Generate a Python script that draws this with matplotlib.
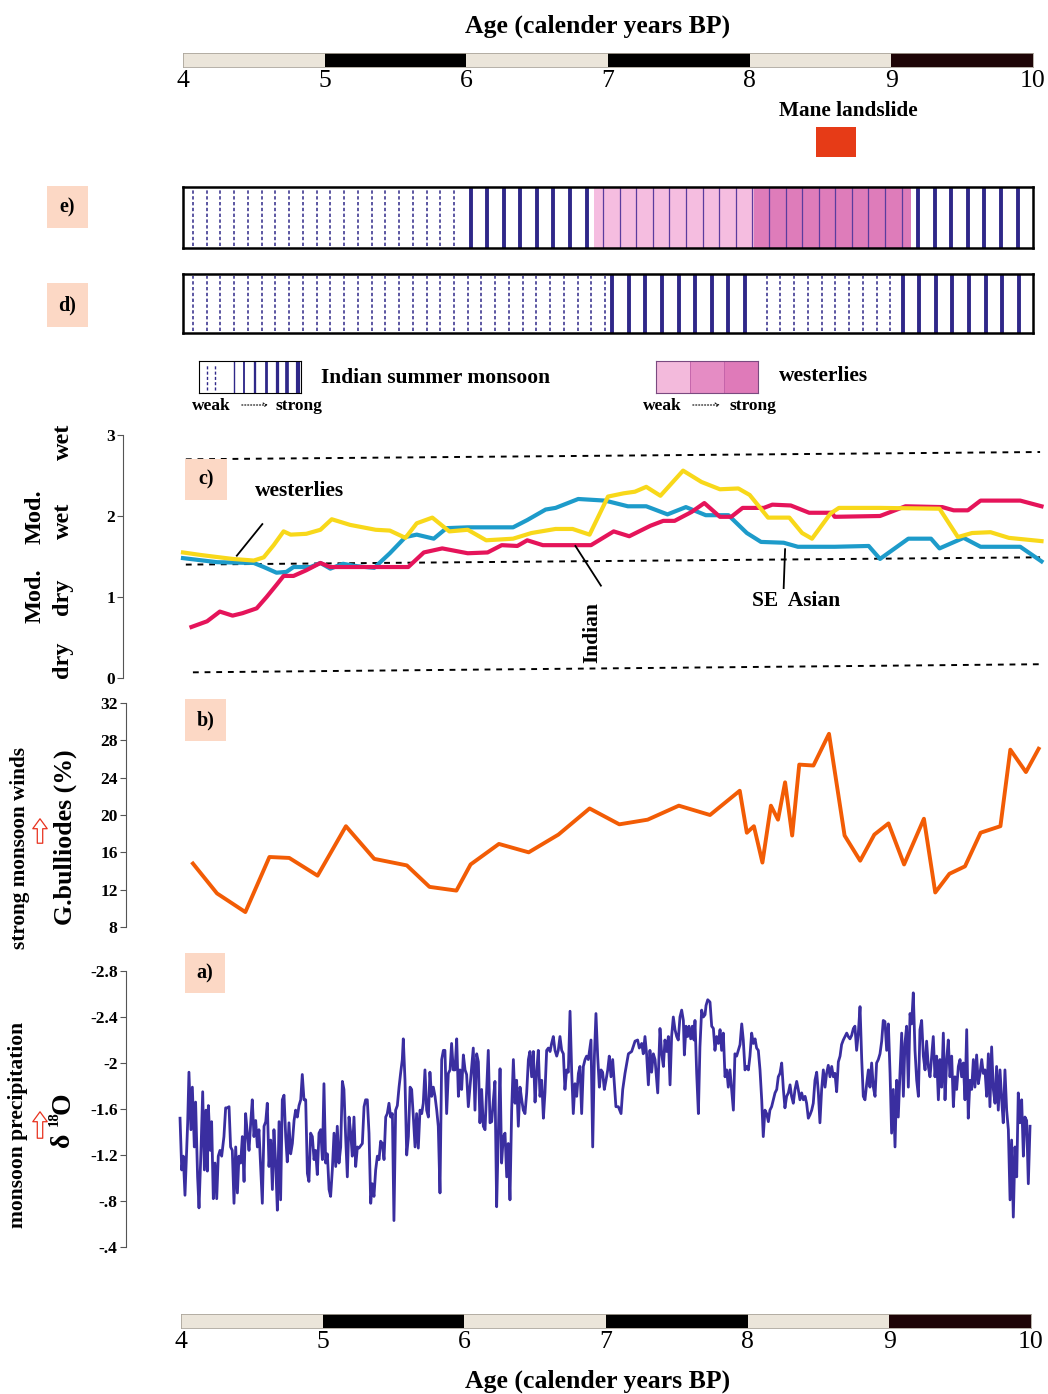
import numpy as np
import matplotlib.pyplot as plt
from matplotlib.patches import Rectangle, FancyArrowPatch, ArrowStyle

# ---------------- data ----------------
bar_edges = [4, 5, 6, 7, 8, 9, 10]
bar_colors = ["#ebe5da", "#000000", "#ebe5da", "#000000", "#ebe5da", "#1e0507"]
landslide = (8.47, 8.75)

# e) / d) monsoon strength segments (start, end, kind) and westerlies shading
ism_e = [(4.0, 6.0, "weak"), (6.0, 10.0, "strong")]
west_e = [(6.9, 8.03, "#f5bde0"), (8.03, 9.14, "#de7cba")]
ism_d = [(4.0, 7.0, "weak"), (7.0, 8.05, "strong"), (8.05, 9.05, "weak"), (9.05, 10.0, "strong")]
west_legend = ["#f3badc", "#e58cc4", "#df7ab9"]

# c) moisture index
west_age = [4.00, 4.12, 4.21, 4.35, 4.50, 4.57, 4.64, 4.71, 4.76, 4.87, 4.97, 5.05, 5.18, 5.36, 5.46,
            5.57, 5.65, 5.76, 5.88, 6.01, 6.14, 6.33, 6.46, 6.63, 6.75, 6.87, 7.00, 7.11, 7.19, 7.27,
            7.37, 7.53, 7.66, 7.79, 7.92, 8.00, 8.13, 8.28, 8.37, 8.44, 8.57, 8.63, 8.92, 9.34, 9.47,
            9.57, 9.70, 9.83, 10.06]
west_val = [1.55, 1.52, 1.50, 1.47, 1.45, 1.49, 1.64, 1.81, 1.77, 1.78, 1.83, 1.96, 1.89, 1.83, 1.82,
            1.73, 1.91, 1.98, 1.81, 1.83, 1.70, 1.72, 1.79, 1.84, 1.84, 1.77, 2.24, 2.28, 2.30, 2.36,
            2.25, 2.56, 2.42, 2.33, 2.34, 2.26, 1.98, 1.98, 1.79, 1.72, 2.03, 2.10, 2.10, 2.09, 1.74,
            1.79, 1.80, 1.73, 1.69]
sea_age = [4.00, 4.24, 4.50, 4.57, 4.66, 4.73, 4.78, 4.90, 4.97, 5.04, 5.13, 5.23, 5.35, 5.46, 5.57,
           5.65, 5.77, 5.86, 6.01, 6.33, 6.43, 6.56, 6.63, 6.79, 6.98, 7.14, 7.27, 7.42, 7.55, 7.69,
           7.85, 7.98, 8.08, 8.24, 8.34, 8.60, 8.84, 8.92, 9.12, 9.28, 9.34, 9.51, 9.63, 9.91, 10.06]
sea_val = [1.48, 1.43, 1.42, 1.37, 1.30, 1.31, 1.37, 1.37, 1.42, 1.35, 1.41, 1.38, 1.36, 1.54, 1.74,
           1.77, 1.72, 1.85, 1.86, 1.86, 1.95, 2.08, 2.10, 2.21, 2.19, 2.12, 2.12, 2.02, 2.11, 2.01,
           2.01, 1.79, 1.68, 1.67, 1.62, 1.62, 1.63, 1.47, 1.72, 1.72, 1.60, 1.73, 1.62, 1.62, 1.44]
ind_age = [4.06, 4.17, 4.26, 4.35, 4.42, 4.52, 4.59, 4.66, 4.71, 4.78, 4.87, 4.97, 5.04, 5.59, 5.70,
           5.83, 6.01, 6.15, 6.25, 6.36, 6.43, 6.54, 6.88, 7.04, 7.15, 7.30, 7.39, 7.47, 7.59, 7.68,
           7.79, 7.87, 7.95, 8.10, 8.16, 8.29, 8.42, 8.58, 8.60, 8.92, 9.10, 9.36, 9.44, 9.54, 9.63,
           9.91, 10.06]
ind_val = [0.63, 0.70, 0.82, 0.77, 0.80, 0.86, 1.00, 1.15, 1.26, 1.26, 1.33, 1.42, 1.37, 1.37, 1.55,
           1.60, 1.54, 1.55, 1.64, 1.63, 1.70, 1.64, 1.64, 1.81, 1.75, 1.88, 1.94, 1.94, 2.05, 2.16,
           1.99, 1.99, 2.10, 2.10, 2.14, 2.13, 2.04, 2.04, 1.99, 2.00, 2.12, 2.11, 2.07, 2.07, 2.19,
           2.19, 2.12]
# dashed class boundaries in c): (age start, age end, value start, value end)
c_guides = [(4.02, 10.05, 2.70, 2.79), (4.02, 10.05, 1.40, 1.49), (4.07, 10.05, 0.07, 0.17)]

# b) G. bulloides (%)
gb_age = [4.07, 4.24, 4.44, 4.61, 4.75, 4.95, 5.15, 5.35, 5.58, 5.74, 5.93, 6.03, 6.23, 6.44, 6.65,
          6.87, 7.08, 7.28, 7.50, 7.72, 7.93, 7.98, 8.03, 8.09, 8.15, 8.20, 8.25, 8.30, 8.35, 8.45,
          8.56, 8.67, 8.78, 8.88, 8.98, 9.09, 9.23, 9.31, 9.41, 9.52, 9.63, 9.77, 9.84, 9.95, 10.04]
gb_val = [14.8, 11.6, 9.6, 15.5, 15.4, 13.5, 18.8, 15.3, 14.6, 12.3, 11.9, 14.7, 16.9, 16.0, 17.9,
          20.7, 19.0, 19.5, 21.0, 20.0, 22.6, 18.1, 18.8, 14.9, 21.0, 19.5, 23.5, 17.8, 25.4, 25.3,
          28.7, 17.8, 15.1, 17.9, 19.1, 14.7, 19.6, 11.7, 13.7, 14.5, 18.1, 18.8, 27.0, 24.6, 27.1]

# a) speleothem d18O
d18o_age = [
    3.979, 3.991, 4.002, 4.014, 4.033, 4.042, 4.056, 4.066, 4.080, 4.089, 4.103, 4.113, 4.127, 4.139,
    4.151, 4.162, 4.172, 4.179, 4.193, 4.202, 4.214, 4.226, 4.238, 4.249, 4.261, 4.273, 4.289, 4.301,
    4.313, 4.325, 4.336, 4.348, 4.360, 4.372, 4.384, 4.395, 4.407, 4.419, 4.431, 4.442, 4.454, 4.466,
    4.478, 4.489, 4.501, 4.513, 4.525, 4.536, 4.548, 4.560, 4.572, 4.584, 4.595, 4.607, 4.619, 4.631,
    4.642, 4.654, 4.666, 4.678, 4.689, 4.701, 4.713, 4.725, 4.736, 4.748, 4.760, 4.772, 4.784, 4.795,
    4.807, 4.819, 4.831, 4.842, 4.854, 4.866, 4.878, 4.889, 4.901, 4.913, 4.925, 4.936, 4.948, 4.960,
    4.972, 4.984, 4.995, 5.007, 5.019, 5.031, 5.042, 5.054, 5.066, 5.078, 5.089, 5.101, 5.113, 5.125,
    5.136, 5.148, 5.160, 5.172, 5.184, 5.195, 5.207, 5.219, 5.231, 5.242, 5.266, 5.278, 5.289, 5.301,
    5.313, 5.325, 5.336, 5.348, 5.360, 5.372, 5.384, 5.395, 5.407, 5.419, 5.431, 5.442, 5.454, 5.466,
    5.478, 5.489, 5.501, 5.513, 5.525, 5.536, 5.548, 5.555, 5.567, 5.579, 5.591, 5.603, 5.614, 5.626,
    5.638, 5.649, 5.661, 5.673, 5.685, 5.696, 5.708, 5.720, 5.732, 5.743, 5.755, 5.767, 5.779, 5.791,
    5.802, 5.814, 5.826, 5.838, 5.849, 5.861, 5.873, 5.885, 5.896, 5.908, 5.920, 5.932, 5.944, 5.955,
    5.967, 5.979, 5.991, 6.002, 6.014,
    6.038, 6.049, 6.061, 6.073, 6.085, 6.096, 6.108, 6.120, 6.132, 6.144, 6.155, 6.167, 6.179, 6.191,
    6.202, 6.214, 6.226, 6.238, 6.249, 6.261, 6.273, 6.285, 6.296, 6.308, 6.320, 6.332, 6.344, 6.355,
    6.367, 6.379, 6.391, 6.402, 6.414, 6.426, 6.438, 6.449, 6.461, 6.473, 6.485, 6.496, 6.508, 6.520,
    6.532, 6.544, 6.555, 6.567, 6.579, 6.591, 6.602, 6.614, 6.626, 6.638, 6.649, 6.661, 6.673, 6.685,
    6.696, 6.708, 6.720, 6.732, 6.744, 6.755, 6.767, 6.779, 6.791, 6.802, 6.814, 6.826, 6.838, 6.849,
    6.861, 6.880, 6.892, 6.904, 6.915, 6.927, 6.939, 6.951, 6.962, 6.974, 6.986, 6.998, 7.009, 7.021,
    7.033, 7.045, 7.056, 7.073, 7.092, 7.104, 7.120, 7.144, 7.167, 7.191, 7.209, 7.221, 7.238, 7.249,
    7.261, 7.273, 7.285, 7.296, 7.308, 7.320, 7.332, 7.351, 7.367, 7.379, 7.391, 7.402, 7.414, 7.426,
    7.438, 7.449, 7.461, 7.473, 7.485, 7.496, 7.508, 7.520, 7.532, 7.539, 7.551, 7.562, 7.572, 7.584,
    7.595, 7.607, 7.614, 7.626, 7.638, 7.649, 7.661, 7.673, 7.685, 7.692, 7.704, 7.720, 7.732, 7.744,
    7.755, 7.767, 7.779, 7.791, 7.802, 7.814, 7.826, 7.838, 7.849, 7.861, 7.873, 7.885, 7.896, 7.908,
    7.920, 7.932, 7.944, 7.955, 7.967, 7.979, 7.991, 8.002, 8.014, 8.026,
    8.038, 8.049, 8.061, 8.073, 8.085, 8.096, 8.108, 8.120, 8.132, 8.143, 8.155, 8.167, 8.179, 8.191,
    8.202, 8.214, 8.226, 8.238, 8.249, 8.261, 8.273, 8.285, 8.296, 8.308, 8.320, 8.332, 8.343, 8.355,
    8.367, 8.379, 8.391, 8.402, 8.414, 8.426, 8.438, 8.449, 8.461, 8.473, 8.485, 8.496, 8.508, 8.520,
    8.532, 8.543, 8.555, 8.567, 8.579, 8.591, 8.602, 8.614, 8.626, 8.638, 8.649, 8.661, 8.673, 8.685,
    8.696, 8.708, 8.720, 8.732, 8.743, 8.755, 8.767, 8.779, 8.791, 8.802, 8.814, 8.826, 8.838, 8.849,
    8.861, 8.873, 8.885, 8.896, 8.908, 8.920, 8.932, 8.943, 8.955, 8.967, 8.979, 8.991, 9.002, 9.014,
    9.026, 9.038, 9.049, 9.061, 9.073, 9.085, 9.096, 9.108, 9.120, 9.132, 9.143, 9.155, 9.167, 9.179,
    9.191, 9.202, 9.214, 9.226, 9.238, 9.249, 9.261, 9.273, 9.285, 9.296, 9.308, 9.320, 9.332, 9.343,
    9.355, 9.367, 9.379, 9.391, 9.402, 9.414, 9.426, 9.438, 9.449, 9.461, 9.473, 9.485, 9.496, 9.508,
    9.520, 9.532, 9.543, 9.555, 9.567, 9.579, 9.590, 9.602, 9.614, 9.626, 9.638, 9.649, 9.661, 9.673,
    9.685, 9.696, 9.708, 9.720, 9.732, 9.743, 9.755, 9.767, 9.779, 9.790, 9.802, 9.814, 9.826, 9.838,
    9.849, 9.861, 9.873, 9.885, 9.896, 9.908, 9.920, 9.932, 9.943, 9.955, 9.967, 9.979,
]
d18o_val = [
    -1.52, -1.07, -1.19, -0.85, -1.48, -1.92, -1.42, -1.79, -1.27, -1.66, -1.01, -0.74, -1.24, -1.75,
    -1.07, -1.59, -1.06, -1.63, -1.24, -1.49, -0.82, -1.13, -0.82, -1.19, -1.24, -1.19, -1.36, -1.61,
    -1.61, -1.62, -1.27, -1.24, -0.78, -1.27, -0.87, -1.19, -1.13, -1.36, -0.97, -1.56, -1.39, -1.24,
    -1.48, -1.68, -1.36, -1.50, -1.27, -1.42, -1.10, -0.78, -1.45, -1.49, -1.65, -1.10, -1.33, -0.90,
    -1.42, -1.13, -0.72, -1.49, -0.81, -1.68, -1.72, -1.36, -1.14, -1.48, -1.21, -1.30, -1.50, -1.59,
    -1.53, -1.63, -1.68, -1.90, -1.68, -1.68, -1.04, -0.97, -1.39, -1.36, -1.16, -1.24, -1.03, -1.39,
    -1.42, -1.16, -1.82, -1.13, -1.21, -0.90, -0.84, -1.07, -1.39, -1.10, -1.45, -1.13, -1.27, -1.84,
    -1.77, -1.36, -1.01, -1.53, -1.39, -1.19, -1.53, -1.10, -1.27, -1.26, -1.30, -1.62, -1.68, -1.68,
    -1.39, -0.78, -0.95, -0.84, -1.07, -1.19, -1.16, -1.32, -1.30, -1.16, -1.53, -1.56, -1.65, -1.53,
    -1.56, -0.63, -1.59, -1.63, -1.79, -1.91, -2.03, -2.21, -1.85, -1.20, -1.36, -1.79, -1.77, -1.53,
    -1.27, -1.56, -1.26, -1.59, -1.56, -1.65, -1.94, -1.59, -1.53, -1.92, -1.71, -1.79, -1.71, -1.59,
    -1.45, -0.87, -2.03, -2.11, -2.11, -1.56, -1.91, -1.94, -2.17, -1.94, -1.94, -2.21, -1.71, -1.94,
    -1.77, -2.07, -1.94, -1.90, -1.62,
    -1.97, -2.13, -1.59, -2.08, -2.01, -1.48, -1.77, -1.45, -1.42, -1.77, -2.11, -1.48, -1.49, -1.68,
    -1.84, -0.75, -1.39, -1.95, -1.13, -1.36, -1.39, -1.01, -1.30, -0.81, -1.59, -2.03, -1.65, -1.85,
    -1.45, -1.79, -1.68, -1.59, -1.56, -1.74, -2.03, -2.10, -1.88, -2.10, -1.66, -1.91, -2.11, -1.71,
    -1.85, -1.52, -1.74, -2.11, -2.13, -2.10, -2.17, -2.23, -2.11, -2.06, -2.11, -2.23, -2.11, -2.08,
    -1.77, -1.94, -1.92, -2.45, -1.91, -1.56, -1.82, -1.71, -1.91, -1.97, -1.56, -1.97, -2.03, -2.06,
    -2.03, -2.20, -1.27, -2.06, -2.43, -2.06, -1.79, -1.94, -1.92, -1.77, -1.85, -1.94, -2.06, -1.88,
    -2.03, -1.82, -1.62, -1.62, -1.56, -1.77, -1.91, -2.08, -2.10, -2.19, -2.20, -2.13, -2.17, -2.08,
    -2.23, -2.07, -1.81, -2.11, -1.92, -2.08, -2.03, -1.74, -2.30, -2.08, -1.97, -2.20, -2.10, -2.23,
    -1.81, -2.23, -2.40, -2.29, -2.23, -2.20, -2.40, -2.46, -2.37, -2.07, -2.32, -2.23, -2.32, -2.21,
    -2.32, -2.20, -2.37, -1.91, -1.56, -2.14, -2.46, -2.40, -2.42, -2.50, -2.55, -2.53, -2.32, -2.30,
    -2.11, -2.23, -2.17, -2.29, -2.11, -2.26, -1.88, -1.94, -1.79, -1.94, -1.77, -1.59, -2.08, -2.06,
    -2.11, -2.16, -2.34, -2.20, -1.94, -1.97, -1.94, -2.06, -2.26, -2.17,
    -2.21, -2.13, -2.11, -1.94, -1.68, -1.36, -1.59, -1.56, -1.49, -1.59, -1.62, -1.68, -1.74, -1.77,
    -1.88, -1.91, -2.00, -1.77, -1.61, -1.71, -1.74, -1.81, -1.71, -1.65, -1.77, -1.84, -1.77, -1.68,
    -1.74, -1.68, -1.71, -1.65, -1.52, -1.55, -1.59, -1.65, -1.85, -1.92, -1.74, -1.48, -1.77, -1.94,
    -1.79, -1.91, -1.98, -1.88, -1.97, -1.88, -1.91, -1.75, -2.01, -2.06, -2.16, -2.20, -2.23, -2.26,
    -2.23, -2.21, -2.24, -2.30, -2.32, -2.11, -2.26, -2.49, -2.03, -1.71, -1.68, -1.82, -1.94, -1.79,
    -2.00, -1.79, -1.71, -2.00, -2.03, -2.08, -2.19, -2.37, -2.36, -2.11, -2.34, -1.91, -1.39, -1.77,
    -1.27, -1.85, -1.53, -1.91, -2.26, -1.71, -2.17, -2.32, -1.79, -2.43, -2.34, -2.61, -2.11, -1.85,
    -1.71, -2.29, -2.37, -2.06, -1.94, -2.19, -1.97, -1.88, -2.06, -2.23, -1.88, -2.06, -1.68, -2.03,
    -1.79, -2.26, -1.68, -2.03, -2.20, -1.88, -2.06, -1.62, -1.88, -1.77, -1.97, -2.03, -1.88, -2.00,
    -1.68, -2.29, -1.52, -1.85, -1.77, -2.03, -1.79, -2.07, -1.82, -1.91, -2.03, -1.91, -1.94, -1.71,
    -2.08, -1.62, -2.14, -1.77, -1.65, -1.97, -1.59, -1.94, -1.68, -1.48, -1.94, -1.59, -1.42, -0.81,
    -1.33, -0.66, -1.27, -1.01, -1.74, -1.48, -1.68, -1.19, -1.53, -1.50, -0.95, -1.45,
]

# ---------------- styling ----------------
plt.rcParams["font.family"] = ["Liberation Serif", "DejaVu Serif"]
plt.rcParams["font.weight"] = "bold"

NAVY = "#2f2889"
PEACH = "#fcd8c5"
W, H = 1048, 1394

fig = plt.figure(figsize=(W / 100, H / 100), dpi=100)


def fx(x):
    return x / W


def fy(y):
    return 1 - y / H


def add_ax(x0, y0, x1, y1):
    # axes placed by its pixel box, y measured from the top
    return fig.add_axes([fx(x0), fy(y1), (x1 - x0) / W, (y1 - y0) / H])


def age_bar(x0, y0, x1, y1):
    ax = add_ax(x0, y0, x1, y1)
    for a, b, c in zip(bar_edges[:-1], bar_edges[1:], bar_colors):
        ax.axvspan(a, b, color=c, lw=0)
    ax.set_xlim(4, 10)
    ax.set_ylim(0, 1)
    ax.set_yticks([])
    ax.set_xticks(bar_edges)
    ax.set_xticklabels([str(e) for e in bar_edges], fontsize=18.5, fontweight="normal")
    ax.tick_params(axis="x", length=0, pad=2.5)
    for s in ax.spines.values():
        s.set_color("#aaa49a")
        s.set_linewidth(0.6)


def monsoon_bar(y0, y1, segments, west=()):
    ax = add_ax(183, y0, 1033, y1)
    ax.set_xlim(4, 10)
    ax.set_ylim(0, 1)
    for a, b, c in west:
        ax.axvspan(a, b, color=c, lw=0)
    for a, b, kind in segments:
        if kind == "weak":
            for x in np.arange(a + 0.07, b - 0.01, 0.097):
                ax.axvline(x, ymin=0.04, ymax=0.96, color=NAVY, lw=1.1, ls=(0, (2.2, 1.6)))
        else:
            for x in np.arange(a + 0.03, b, 0.117):
                in_west = any(p <= x <= q for p, q, _ in west)
                if in_west:
                    ax.axvline(x, color="#5b3c9e", lw=0.9)
                else:
                    ax.axvline(x, color=NAVY, lw=2.8)
    ax.set_xticks([])
    ax.set_yticks([])
    for s in ax.spines.values():
        s.set_linewidth(1.8)


def style_panel(ax, outward):
    for s in ("top", "right", "bottom"):
        ax.spines[s].set_visible(False)
    ax.spines["left"].set_position(("outward", outward))
    ax.spines["left"].set_color("#555555")
    ax.spines["left"].set_linewidth(0.8)
    ax.set_xticks([])
    ax.set_xlim(4, 10)
    ax.tick_params(axis="y", labelsize=12.5, length=4, width=0.8, color="#555555", pad=2)
    ax.patch.set_alpha(0)


def tag(x0, y0, x1, y1, s):
    fig.add_artist(Rectangle((fx(x0), fy(y1)), (x1 - x0) / W, (y1 - y0) / H,
                             transform=fig.transFigure, facecolor=PEACH, edgecolor="none"))
    fig.text(fx((x0 + x1) / 2), fy((y0 + y1) / 2), s, ha="center", va="center", fontsize=14.5)


def vtext(x, y, s, size):
    fig.text(fx(x), fy(y), s, rotation=90, ha="center", va="center", fontsize=size)


# ---------------- top / bottom age scales ----------------
fig.text(fx(598), fy(26), "Age (calender years BP)", ha="center", va="center", fontsize=18.5)
age_bar(183, 53, 1033, 67)
age_bar(181, 1314, 1031, 1328)
fig.text(fx(598), fy(1381), "Age (calender years BP)", ha="center", va="center", fontsize=18.5)

fig.text(fx(848), fy(111), "Mane landslide", ha="center", va="center", fontsize=15.3)
ax_ls = add_ax(183, 127, 1033, 157)
ax_ls.set_xlim(4, 10)
ax_ls.axvspan(*landslide, color="#e63b17", lw=0)
ax_ls.axis("off")

# ---------------- e) and d) ----------------
monsoon_bar(187, 248, ism_e, west_e)
monsoon_bar(274, 333, ism_d)
tag(47, 186, 88, 228, "e)")
tag(47, 283, 88, 327, "d)")

# legend
ax_l1 = add_ax(199, 361, 301, 393)
ax_l1.set_xlim(0, 1)
for x in (0.08, 0.16):
    ax_l1.axvline(x, ymin=0.08, ymax=0.92, color=NAVY, lw=1.0, ls=(0, (2.2, 1.6)))
for x, w in zip(np.linspace(0.34, 0.97, 7), np.linspace(1.0, 3.0, 7)):
    ax_l1.axvline(x, color=NAVY, lw=w)
ax_l1.set_xticks([])
ax_l1.set_yticks([])
for s in ax_l1.spines.values():
    s.set_linewidth(0.8)

ax_l2 = add_ax(656, 361, 758, 393)
ax_l2.set_xlim(0, 3)
for i, c in enumerate(west_legend):
    ax_l2.axvspan(i, i + 1, color=c, lw=0)
    ax_l2.axvline(i, color="#c060a8", lw=0.6)
ax_l2.set_xticks([])
ax_l2.set_yticks([])
for s in ax_l2.spines.values():
    s.set_linewidth(0.8)
    s.set_color("#7a4a80")

fig.text(fx(321), fy(378), "Indian summer monsoon", ha="left", va="center", fontsize=15.5)
fig.text(fx(779), fy(376), "westerlies", ha="left", va="center", fontsize=15.5)
for x_weak, xa0, xa1, x_strong in ((192, 239, 271, 276), (643, 690, 723, 730)):
    fig.text(fx(x_weak), fy(406), "weak", ha="left", va="center", fontsize=12.5)
    fig.text(fx(x_strong), fy(406), "strong", ha="left", va="center", fontsize=12.5)
    fig.add_artist(FancyArrowPatch((fx(xa0), fy(405)), (fx(xa1), fy(405)), transform=fig.transFigure,
                                   arrowstyle="->", linestyle=":", lw=0.8, mutation_scale=7))

# ---------------- c) ----------------
ax_c = add_ax(183, 435, 1033, 678)
style_panel(ax_c, 43)
ax_c.set_ylim(0, 3)
ax_c.set_yticks([0, 1, 2, 3])
for a0, a1, v0, v1 in c_guides:
    ax_c.plot([a0, a1], [v0, v1], color="black", lw=1.4, ls=(0, (3, 3)), clip_on=False)
ax_c.plot(sea_age, sea_val, color="#1d9bca", lw=3, clip_on=False, solid_joinstyle="round")
ax_c.plot(ind_age, ind_val, color="#e5145a", lw=3, clip_on=False, solid_joinstyle="round")
ax_c.plot(west_age, west_val, color="#f8d81a", lw=3, clip_on=False, solid_joinstyle="round")
ax_c.plot([4.56, 4.38], [1.90, 1.51], color="black", lw=1.3)
ax_c.plot([6.77, 6.95], [1.63, 1.14], color="black", lw=1.3)
ax_c.plot([8.25, 8.24], [1.59, 1.11], color="black", lw=1.3)
ax_c.text(4.82, 2.31, "westerlies", ha="center", va="center", fontsize=15.5)
ax_c.text(6.89, 0.56, "Indian", ha="center", va="center", fontsize=15.5, rotation=90)
ax_c.text(8.33, 0.95, "SE  Asian", ha="center", va="center", fontsize=15.5)
tag(185, 459, 227, 500, "c)")

vtext(63, 442, "wet", 17.5)
vtext(35, 517, "Mod.", 17.5)
vtext(63, 521, "wet", 17.5)
vtext(35, 596, "Mod.", 17.5)
vtext(63, 597, "dry", 17.5)
vtext(63, 660, "dry", 17.5)

# ---------------- b) ----------------
ax_b = add_ax(183, 703, 1033, 927)
style_panel(ax_b, 41)
ax_b.set_ylim(8, 32)
ax_b.set_yticks(np.arange(8, 33, 4))
ax_b.plot(gb_age, gb_val, color="#f25c05", lw=2.8, clip_on=False)
tag(185, 699, 226, 741, "b)")
vtext(65, 837, "G.bulliodes (%)", 18.6)
vtext(20, 848, "strong monsoon winds", 15.3)

# ---------------- a) ----------------
ax_a = add_ax(183, 971, 1033, 1247)
style_panel(ax_a, 41)
ax_a.set_ylim(-0.4, -2.8)
a_ticks = [-2.8, -2.4, -2.0, -1.6, -1.2, -0.8, -0.4]
ax_a.set_yticks(a_ticks)
ax_a.set_yticklabels(["-2.8", "-2.4", "-2", "-1.6", "-1.2", "-.8", "-.4"])
ax_a.plot(d18o_age, d18o_val, color="#3a2ea0", lw=2.0, clip_on=False)
tag(185, 953, 225, 993, "a)")
vtext(18, 1125, "monsoon precipitation", 15.5)
vtext(63, 1140, "δ", 20)
vtext(54, 1119, "18", 10.5)
vtext(63, 1103, "O", 20)

# hollow red arrows
for y0, y1 in ((846, 816), (1141, 1109)):
    fig.add_artist(FancyArrowPatch((fx(40), fy(y0)), (fx(40), fy(y1)), transform=fig.transFigure,
                                   arrowstyle=ArrowStyle("Simple", head_length=0.55, head_width=0.8,
                                                         tail_width=0.3),
                                   mutation_scale=13, facecolor="white", edgecolor="#e8321e", lw=0.9))

fig.savefig("out.png", dpi=100)
